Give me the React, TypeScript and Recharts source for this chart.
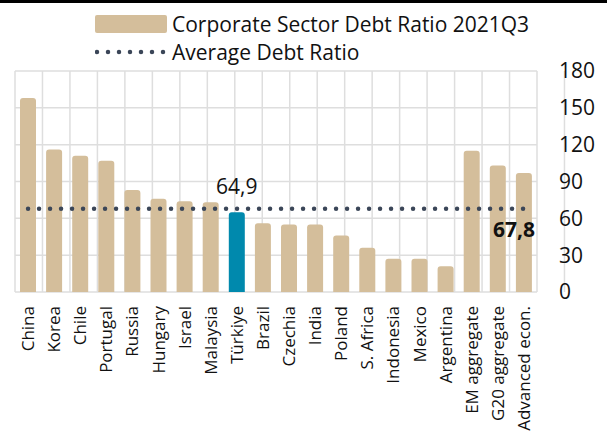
import React from 'react';
import {
  BarChart,
  Bar,
  Cell,
  XAxis,
  YAxis,
  CartesianGrid,
  ReferenceLine,
  LabelList,
} from 'recharts';

const categories = [
  'China', 'Korea', 'Chile', 'Portugal', 'Russia', 'Hungary', 'Israel', 'Malaysia',
  'Türkiye', 'Brazil', 'Czechia', 'India', 'Poland', 'S. Africa', 'Indonesia', 'Mexico',
  'Argentina', 'EM aggregate', 'G20 aggregate', 'Advanced econ.',
];
const debtRatio = [
  158, 116, 111, 107, 83, 76, 74, 73, 64.9, 56, 55, 55, 46, 36, 27, 27, 21, 115, 103, 97,
];
const highlighted = 'Türkiye';
const averageRatio = 67.8;
const yTicks = [0, 30, 60, 90, 120, 150, 180];

const FONT = '"Open Sans", sans-serif';
const TAN = '#d4be9b';
const TEAL = '#0089ad';
const DOT = '#3b4658';

const fmt = (v: number) => v.toFixed(1).replace('.', ',');

const chartData = categories.map((name, i) => ({
  name,
  value: debtRatio[i],
  label: name === highlighted ? fmt(debtRatio[i]) : '',
}));
const edgeTicks = [...categories.map((_, i) => i), categories.length];

// rotated category labels
const CategoryTick = ({ x, y, payload }: any) => (
  <g transform={`translate(${x},${y})`}>
    <text
      transform="rotate(-90)"
      x={-6}
      y={0}
      dy="0.35em"
      textAnchor="end"
      fontSize={17}
      fontFamily={FONT}
      fill="#111"
    >
      {payload.value}
    </text>
  </g>
);

const AverageLabel = ({ viewBox }: any) => {
  if (!viewBox) return null;
  return (
    <text
      x={viewBox.x + viewBox.width + 11}
      y={viewBox.y + 28}
      textAnchor="end"
      fontSize={21}
      fontWeight="bold"
      fontFamily={FONT}
      fill="#111"
    >
      {fmt(averageRatio)}
    </text>
  );
};

const Legend = () => (
  <div style={{ position: 'absolute', left: 95, top: 7, fontFamily: FONT, fontSize: 21, color: '#111' }}>
    <div style={{ display: 'flex', alignItems: 'center', height: 28 }}>
      <span style={{ width: 72, height: 18, background: TAN, borderRadius: 2, marginRight: 5 }} />
      <span>Corporate Sector Debt Ratio 2021Q3</span>
    </div>
    <div style={{ display: 'flex', alignItems: 'center', height: 28 }}>
      <svg width={72} height={10} style={{ marginRight: 5 }}>
        <line x1={2} y1={5} x2={72} y2={5} stroke={DOT} strokeWidth={4.5} strokeDasharray="0 11" strokeLinecap="round" />
      </svg>
      <span>Average Debt Ratio</span>
    </div>
  </div>
);

export default function App() {
  return (
    <div style={{ position: 'relative', width: 607, height: 434, borderTop: '3px solid #000', boxSizing: 'border-box' }}>
      <style>{'body{margin:0}'}</style>
      <Legend />
      <BarChart
        width={607}
        height={431}
        data={chartData}
        margin={{ top: 68, right: 0, bottom: 0, left: 15 }}
      >
        <CartesianGrid stroke="#dedede" strokeWidth={1.5} />
        <XAxis
          type="number"
          domain={[0, categories.length]}
          ticks={edgeTicks}
          height={0}
          tickFormatter={() => ''}
          tickSize={6}
          axisLine={{ stroke: '#222', strokeWidth: 1.5 }}
          tickLine={{ stroke: '#222', strokeWidth: 1.5 }}
        />
        <XAxis
          xAxisId="cat"
          dataKey="name"
          height={142}
          axisLine={false}
          tickLine={false}
          interval={0}
          tick={<CategoryTick />}
        />
        <YAxis
          orientation="right"
          domain={[0, 180]}
          ticks={yTicks}
          width={70}
          axisLine={false}
          tickLine={false}
          tickMargin={16}
          tick={{ fontSize: 21, fontFamily: FONT, fill: '#111', textAnchor: 'start' }}
        />
        <Bar xAxisId="cat" dataKey="value" barSize={16} radius={[3, 3, 0, 0]} isAnimationActive={false}>
          {chartData.map((d) => (
            <Cell key={d.name} fill={d.name === highlighted ? TEAL : TAN} />
          ))}
          <LabelList
            dataKey="label"
            position="top"
            offset={18}
            style={{ fontSize: 21, fontFamily: FONT, fill: '#111' }}
          />
        </Bar>
        <ReferenceLine
          xAxisId="cat"
          segment={[
            { x: categories[0], y: averageRatio },
            { x: categories[categories.length - 1], y: averageRatio },
          ]}
          stroke={DOT}
          strokeWidth={4.5}
          strokeDasharray="0 11"
          strokeLinecap="round"
          label={<AverageLabel />}
          ifOverflow="visible"
        />
      </BarChart>
    </div>
  );
}
